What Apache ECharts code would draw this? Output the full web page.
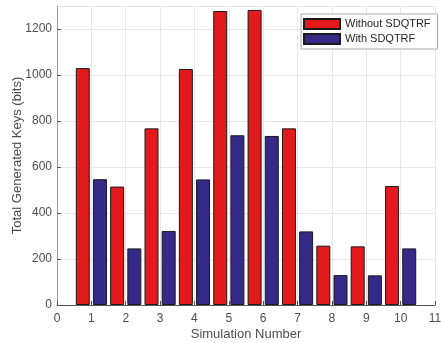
<!DOCTYPE html>
<html>
<head>
<meta charset="utf-8">
<script src="https://cdn.jsdelivr.net/npm/echarts@6/dist/echarts.min.js"></script>
<style>
html,body{margin:0;padding:0;background:#fff;}
#chart{width:441px;height:343px;}
</style>
</head>
<body>
<div id="chart"></div>
<script>
const simulations = [1, 2, 3, 4, 5, 6, 7, 8, 9, 10];
const withoutSDQTRF = [1030, 515, 768, 1026, 1278, 1283, 768, 258, 255, 517];
const withSDQTRF = [547, 246, 322, 546, 738, 735, 320, 130, 129, 246];
const xTicks = [0, 1, 2, 3, 4, 5, 6, 7, 8, 9, 10, 11];
const yTicks = [0, 200, 400, 600, 800, 1000, 1200];
const seriesNames = ['Without SDQTRF', 'With SDQTRF'];

const FONT = 'Liberation Sans, Arial, Helvetica, sans-serif';
const chart = echarts.init(document.getElementById('chart'), null, {renderer: 'canvas'});

const xAxisBase = {
  type: 'value', min: xTicks[0], max: xTicks[xTicks.length - 1], interval: 1,
};

chart.setOption({
  animation: false,
  backgroundColor: '#ffffff',
  textStyle: {fontFamily: FONT},
  grid: {left: 57, right: 6, top: 6, bottom: 38, containLabel: false, outerBoundsMode: 'none'},
  legend: {
    data: seriesNames,
    orient: 'vertical',
    left: 301, top: 14,
    itemWidth: 36, itemHeight: 10, itemGap: 3,
    padding: [4, 7, 4, 2],
    borderColor: '#aaaaaa', borderWidth: 1,
    backgroundColor: '#ffffff',
    textStyle: {fontFamily: FONT, fontSize: 11, color: '#262626'},
    icon: 'rect'
  },
  xAxis: [
    Object.assign({}, xAxisBase, {
      name: 'Simulation Number',
      nameLocation: 'middle', nameGap: 23, nameMoveOverlap: false,
      nameTextStyle: {fontFamily: FONT, fontSize: 13, color: '#4d4d4d'},
      axisLine: {show: true, onZero: false, lineStyle: {color: '#555555', width: 1}},
      axisTick: {show: true, inside: true, length: 4, lineStyle: {color: '#555555'}},
      axisLabel: {fontFamily: FONT, fontSize: 12, color: '#4d4d4d', margin: 8},
      splitLine: {show: true, lineStyle: {color: '#e8e8e8', width: 1}}
    }),
    Object.assign({}, xAxisBase, {show: false})
  ],
  yAxis: {
    type: 'value', min: 0, max: 1300, interval: 200,
    name: 'Total Generated Keys (bits)',
    nameLocation: 'middle', nameGap: 33, nameMoveOverlap: false,
    nameTextStyle: {fontFamily: FONT, fontSize: 13, color: '#4d4d4d'},
    axisLine: {show: true, lineStyle: {color: '#999999', width: 1}},
    axisTick: {show: true, inside: true, length: 4, lineStyle: {color: '#555555'}},
    axisLabel: {
      fontFamily: FONT, fontSize: 12, color: '#4d4d4d', margin: 5, showMaxLabel: false,
      formatter: v => (yTicks.indexOf(v) >= 0 ? String(v) : '')
    },
    splitLine: {show: true, lineStyle: {color: '#e8e8e8', width: 1}}
  },
  series: [
    {
      name: seriesNames[0], type: 'bar', xAxisIndex: 0,
      barWidth: 14,
      itemStyle: {color: '#e31a1c', borderColor: '#1a1a1a', borderWidth: 1},
      data: simulations.map((s, i) => [s - 0.25, withoutSDQTRF[i]])
    },
    {
      name: seriesNames[1], type: 'bar', xAxisIndex: 1,
      barWidth: 14,
      itemStyle: {color: '#352a87', borderColor: '#1a1a1a', borderWidth: 1},
      data: simulations.map((s, i) => [s + 0.25, withSDQTRF[i]])
    }
  ]
});
</script>
</body>
</html>
